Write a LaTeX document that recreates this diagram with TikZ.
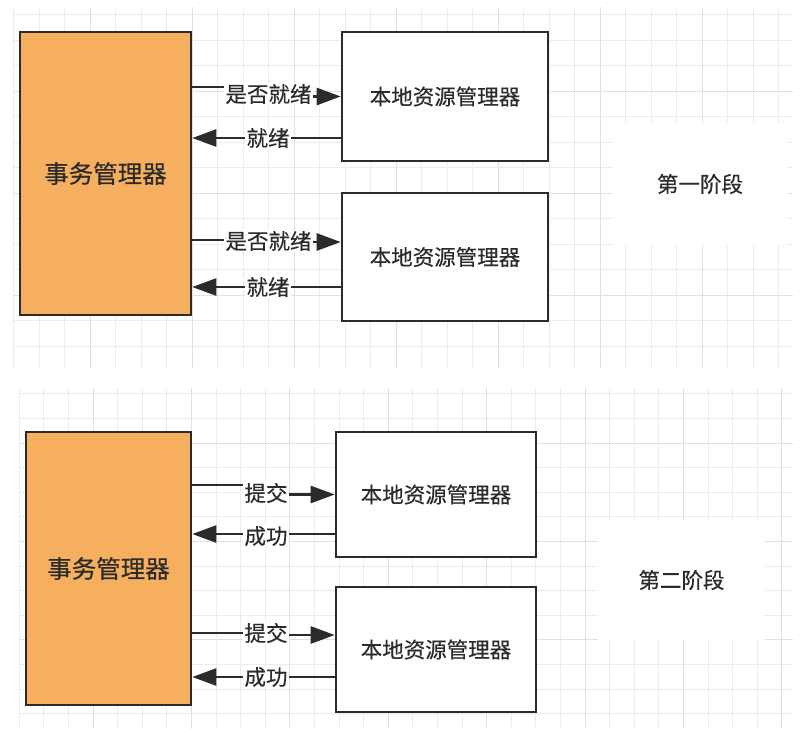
\documentclass[tikz,border=0pt]{standalone}
\usepackage{fontspec}
\setmainfont{Noto Sans CJK SC}[FakeBold=0.4]
\usetikzlibrary{arrows.meta}
\definecolor{ink}{HTML}{2B2B2B}
\definecolor{tmfill}{HTML}{F6AF5F}
\definecolor{gridminor}{HTML}{ECECEC}
\definecolor{gridmajor}{HTML}{E0E0E0}
\pgfdeclarelayer{gridlayer}
\pgfdeclarelayer{edgelayer}
\pgfsetlayers{gridlayer,edgelayer,main}
\begin{document}
\begin{tikzpicture}[x=1pt,y=-1pt,
  tmbox/.style={draw=ink, line width=2.6pt, fill=tmfill, rectangle, inner sep=0pt,
    font=\fontsize{24.5}{26}\selectfont, text=ink},
  rmbox/.style={draw=ink, line width=2.6pt, fill=white, rectangle, inner sep=0pt,
    font=\fontsize{21.5}{24}\selectfont, text=ink},
  conn/.style={draw=ink, line width=2.6pt},
  tipped/.style={-{Triangle[length=24pt,width=17pt]}},
  lab/.style={fill=white, inner xsep=1.5pt, inner ysep=1pt,
    font=\fontsize{21.5}{24}\selectfont, text=ink},
  stage/.style={fill=white, rectangle, inner sep=0pt,
    font=\fontsize{21.5}{24}\selectfont, text=ink},
  minorline/.style={draw=gridminor, line width=1pt},
  majorline/.style={draw=gridmajor, line width=1pt}
]
\useasboundingbox (0,0) rectangle (803,729);
\begin{pgfonlayer}{gridlayer}
  \fill[white] (0,0) rectangle (803,729);
  % top panel grid
  \begin{scope}
    \clip (13,7) rectangle (793,368);
    \foreach \xx in {13.5,39,...,795} \draw[minorline] (\xx,7) -- (\xx,368);
    \foreach \yy in {14.5,40,...,370} \draw[minorline] (13,\yy) -- (793,\yy);
    \foreach \xx in {90,192,...,795} \draw[majorline] (\xx,7) -- (\xx,368);
    \foreach \yy in {91,193,...,370} \draw[majorline] (13,\yy) -- (793,\yy);
  \end{scope}
  % bottom panel grid
  \begin{scope}
    \clip (19,388) rectangle (793,729);
    \foreach \xx in {19.2,43.8,...,795} \draw[minorline] (\xx,388) -- (\xx,729);
    \foreach \yy in {393.8,418.4,...,731} \draw[minorline] (19,\yy) -- (793,\yy);
    \foreach \xx in {93,191.4,...,795} \draw[majorline] (\xx,388) -- (\xx,729);
    \foreach \yy in {443,541.4,...,731} \draw[majorline] (19,\yy) -- (793,\yy);
  \end{scope}
\end{pgfonlayer}

% stage labels
\node[stage, minimum width=174pt, minimum height=122pt] (s1) at (700,184) {第一阶段};
\node[stage, minimum width=167pt, minimum height=120pt] (s2) at (681.5,580) {第二阶段};

% top panel boxes
\node[tmbox, minimum width=171pt, minimum height=283pt] (tm1) at (105.5,173.5) {事务管理器};
\node[rmbox, minimum width=206pt, minimum height=129pt] (rm1) at (445,96.5) {本地资源管理器};
\node[rmbox, minimum width=206pt, minimum height=128pt] (rm2) at (445,257) {本地资源管理器};

% bottom panel boxes
\node[tmbox, minimum width=165pt, minimum height=273pt] (tm2) at (108.5,568.5) {事务管理器};
\node[rmbox, minimum width=200pt, minimum height=125pt] (rb1) at (436,494.5) {本地资源管理器};
\node[rmbox, minimum width=200pt, minimum height=125pt] (rb2) at (436,649.5) {本地资源管理器};

% labels
\node[lab] (l1) at (268.5,94) {是否就绪};
\node[lab] (l2) at (268,138) {就绪};
\node[lab] (l3) at (268.5,241) {是否就绪};
\node[lab] (l4) at (268,287) {就绪};
\node[lab] (l5) at (266,493) {提交};
\node[lab] (l6) at (266,536) {成功};
\node[lab] (l7) at (266,633) {提交};
\node[lab] (l8) at (266,677) {成功};

\begin{pgfonlayer}{edgelayer}
  \draw[conn, tipped] (tm1.east |- 0,87) -| (l1.center) |- (rm1.west);
  \draw[conn, tipped] (rm1.west |- 0,138) -- (tm1.east |- 0,138);
  \draw[conn, tipped] (tm1.east |- 0,240) -| (l3.center) |- (rm2.west |- 0,242);
  \draw[conn, tipped] (rm2.west |- 0,287) -- (tm1.east |- 0,287);
  \draw[conn, tipped] (tm2.east |- 0,485) -| (l5.center) |- (rb1.west);
  \draw[conn, tipped] (rb1.west |- 0,534) -- (tm2.east |- 0,534);
  \draw[conn, tipped] (tm2.east |- 0,633) -| (l7.center) |- (rb2.west |- 0,635);
  \draw[conn, tipped] (rb2.west |- 0,677) -- (tm2.east |- 0,677);
\end{pgfonlayer}
\end{tikzpicture}
\end{document}
